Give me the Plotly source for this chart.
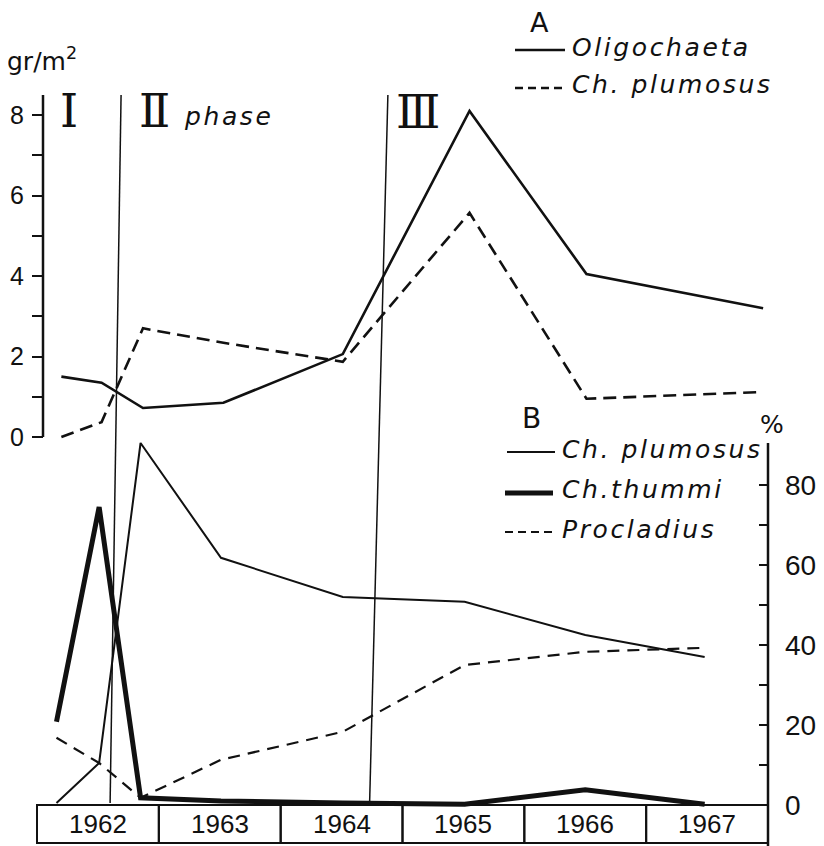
import plotly.graph_objects as go

# ---------------- data ----------------
years = [1962, 1963, 1964, 1965, 1966, 1967]
year_labels = ["1962", "1963", "1964", "1965", "1966", "1967"]

# Panel A: biomass, gr/m2
a_dates = [1962.20, 1962.53, 1962.87, 1963.53, 1964.51, 1965.55, 1966.51, 1967.96]
a_oligochaeta = [1.50, 1.35, 0.72, 0.85, 2.06, 8.10, 4.05, 3.20]
a_plumosus = [0.00, 0.37, 2.70, 2.34, 1.87, 5.57, 0.95, 1.12]

# Panel B: percentage of chironomids
b_dates = [1962.16, 1962.51, 1962.85, 1963.51, 1964.51, 1965.51, 1966.50, 1967.48]
b_plumosus = [0.5, 10.5, 90.5, 61.8, 52.0, 50.8, 42.5, 37.0]
b_thummi = [20.8, 74.5, 1.8, 1.0, 0.5, 0.2, 3.8, 0.2]
b_procladius = [16.8, 10.5, 1.8, 11.3, 18.3, 35.0, 38.3, 39.3]

phase_bound_top = [1962.69, 1964.88]
phase_bound_bottom = [1962.60, 1964.73]
phase_names = ["\u2160", "\u2161", "\u2162"]

a_major = [0, 2, 4, 6, 8]
a_minor = [1, 3, 5, 7]
b_major = [0, 20, 40, 60, 80]
b_minor = [10, 30, 50, 70]

# ---------------- layout helpers ----------------
OFF = 8                 # page body margin of the html page
FW, FH = 824 - OFF, 846 - OFF

def px(x):
    return (x - OFF) / FW

def py(y):
    return 1 - (y - OFF) / FH

X0_PIX, X_PER_YEAR = 37 - OFF, 731 / 6
A0_PIX, A_PER_UNIT = 437 - OFF, 40.25
B0_PIX, B_PER_UNIT = 805 - OFF, 4.0

xr = [1962 - X0_PIX / X_PER_YEAR, 1962 + (FW - X0_PIX) / X_PER_YEAR]
yr_a = [(A0_PIX - FH) / A_PER_UNIT, A0_PIX / A_PER_UNIT]
yr_b = [(B0_PIX - FH) / B_PER_UNIT, B0_PIX / B_PER_UNIT]

INK = "#111111"
TXT = "DejaVu Sans"
NUM = "Liberation Sans"
ROMAN = "DejaVu Serif"

fig = go.Figure()

# Panel A traces
fig.add_trace(go.Scatter(x=a_dates, y=a_oligochaeta, mode="lines", yaxis="y",
                         line=dict(color=INK, width=2.6), name="Oligochaeta"))
fig.add_trace(go.Scatter(x=a_dates, y=a_plumosus, mode="lines", yaxis="y",
                         line=dict(color=INK, width=2.6, dash="13px,7px"), name="Ch. plumosus"))
# Panel B traces
fig.add_trace(go.Scatter(x=b_dates, y=b_plumosus, mode="lines", yaxis="y2",
                         line=dict(color=INK, width=2.0), name="Ch. plumosus (%)"))
fig.add_trace(go.Scatter(x=b_dates, y=b_thummi, mode="lines", yaxis="y2",
                         line=dict(color=INK, width=5.0), name="Ch. thummi"))
fig.add_trace(go.Scatter(x=b_dates, y=b_procladius, mode="lines", yaxis="y2",
                         line=dict(color=INK, width=2.2, dash="12px,8px"), name="Procladius"))

shapes = []
# axis spines
shapes.append(dict(type="line", xref="paper", yref="y", x0=px(43), x1=px(43),
                   y0=0, y1=8.5, line=dict(color=INK, width=2.5)))
shapes.append(dict(type="line", xref="paper", yref="y2", x0=px(768), x1=px(768),
                   y0=yr_b[0], y1=90.5, line=dict(color=INK, width=2.5)))
# year boxes
for yv in years:
    shapes.append(dict(type="rect", xref="x", yref="y2", x0=yv, x1=yv + 1,
                       y0=-9.5, y1=0, line=dict(color=INK, width=2), layer="below"))
# phase boundaries
for xt, xb in zip(phase_bound_top, phase_bound_bottom):
    shapes.append(dict(type="line", xref="x", yref="paper", x0=xt, x1=xb,
                       y0=py(95), y1=py(803), line=dict(color=INK, width=1.5)))
# legend samples
shapes.append(dict(type="line", xref="paper", yref="paper", x0=px(515), x1=px(565),
                   y0=py(50), y1=py(50), line=dict(color=INK, width=2.5)))
shapes.append(dict(type="line", xref="paper", yref="paper", x0=px(515), x1=px(565),
                   y0=py(88), y1=py(88), line=dict(color=INK, width=2.5, dash="8px,5px")))
shapes.append(dict(type="line", xref="paper", yref="paper", x0=px(507), x1=px(555),
                   y0=py(452), y1=py(452), line=dict(color=INK, width=1.8)))
shapes.append(dict(type="line", xref="paper", yref="paper", x0=px(505), x1=px(553),
                   y0=py(493), y1=py(493), line=dict(color=INK, width=5)))
shapes.append(dict(type="line", xref="paper", yref="paper", x0=px(505), x1=px(553),
                   y0=py(532), y1=py(532), line=dict(color=INK, width=2, dash="8px,5px")))

def ls(t, sp=2.6):
    return '<span style="letter-spacing:%.1fpx">%s</span>' % (sp, t)

ann = []
def text(t, x, y, size, font=TXT, xanchor="left", style="normal", yanchor="middle"):
    ann.append(dict(text=t, x=px(x), y=py(y), xref="paper", yref="paper",
                    xanchor=xanchor, yanchor=yanchor, showarrow=False, borderpad=0,
                    font=dict(family=font, size=size, color=INK, style=style)))

text("gr/m<sup>2</sup>", 6, 60, 25)
text("A", 539, 22, 27, xanchor="center")
text(ls("Oligochaeta"), 571, 47, 25, style="italic")
text(ls("Ch. plumosus"), 571, 85, 25, style="italic")
text("B", 531, 418, 28, xanchor="center")
text("%", 772, 424, 25, xanchor="center")
text(ls("Ch. plumosus"), 561, 449, 25, style="italic")
text(ls("Ch.thummi"), 561, 490, 25, style="italic")
text(ls("Procladius"), 561, 529, 25, style="italic")
text(phase_names[0], 69, 111, 46, font=ROMAN, xanchor="center")
text(phase_names[1], 154, 111, 46, font=ROMAN, xanchor="center")
text(ls("phase"), 183, 117, 25, style="italic")
text(phase_names[2], 418, 112, 46, font=ROMAN, xanchor="center")

for yv, lab in zip(years, year_labels):
    ann.append(dict(text=lab, x=yv + 0.5, y=-4.75, xref="x", yref="y2",
                    xanchor="center", yanchor="middle", showarrow=False,
                    font=dict(family=NUM, size=26, color=INK)))

fig.update_layout(
    width=FW, height=FH,
    margin=dict(l=0, r=0, t=0, b=0, pad=0),
    paper_bgcolor="white", plot_bgcolor="white",
    showlegend=False,
    shapes=shapes, annotations=ann,
    xaxis=dict(range=xr, visible=False, fixedrange=True),
    yaxis=dict(range=yr_a, domain=[0, 1], anchor="free", position=px(43),
               showgrid=False, zeroline=False, showline=False,
               tickmode="array", tickvals=a_major, ticktext=[str(v) for v in a_major],
               ticks="outside", ticklen=11, tickwidth=2.2, tickcolor=INK,
               minor=dict(tickvals=a_minor, ticks="outside", ticklen=11, tickwidth=2.2, tickcolor=INK),
               tickfont=dict(family=NUM, size=25, color=INK), ticklabelstandoff=3),
    yaxis2=dict(range=yr_b, overlaying="y", side="right", anchor="free", position=px(768),
                showgrid=False, zeroline=False, showline=False,
                tickmode="array", tickvals=b_major, ticktext=[str(v) for v in b_major],
                ticks="inside", ticklen=9, tickwidth=2.2, tickcolor=INK,
                minor=dict(tickvals=b_minor, ticks="inside", ticklen=9, tickwidth=2.2, tickcolor=INK),
                tickfont=dict(family=NUM, size=28, color=INK), ticklabelstandoff=16),
)

fig.write_html("out.html")
